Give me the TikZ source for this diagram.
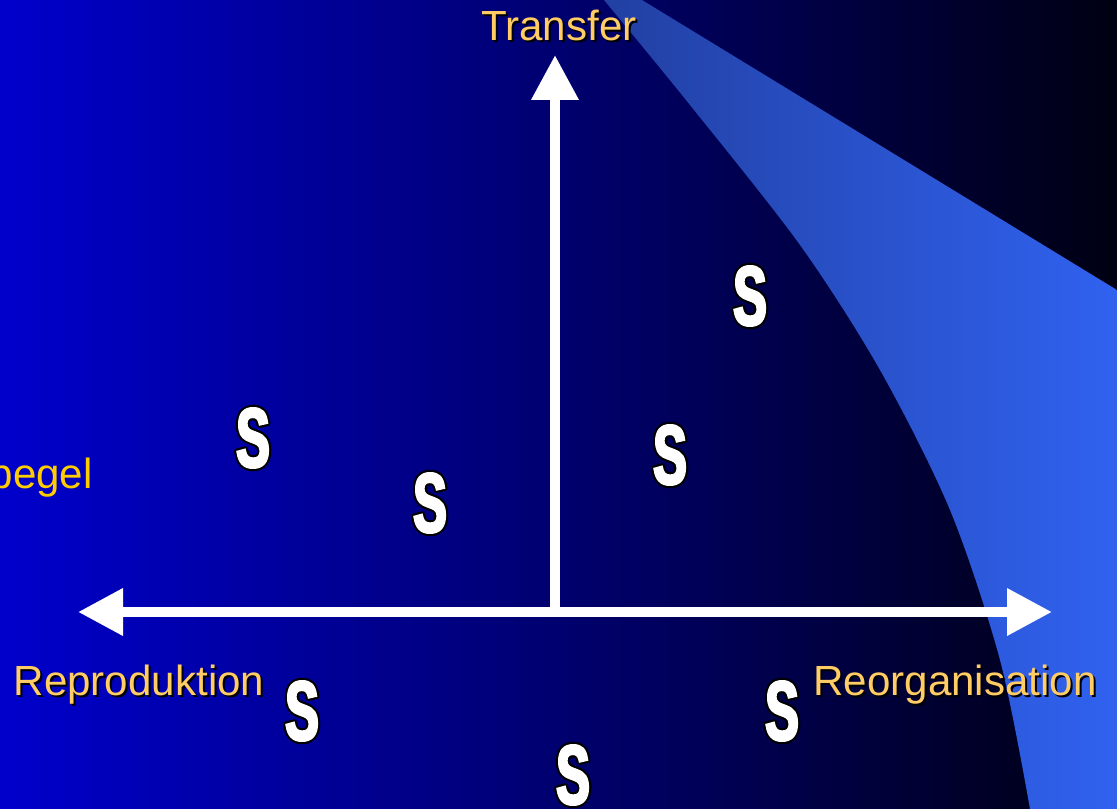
\documentclass[tikz,border=0pt]{standalone}
\usepackage{fontspec}
\setmainfont{Liberation Sans}
\newfontfamily\sglyphfont[FakeStretch=0.6,FakeBold=3]{Liberation Sans Bold}
\usepackage{tikz}
\usetikzlibrary{arrows.meta}
\definecolor{bgleft}{HTML}{0000CC}
\definecolor{bgright}{HTML}{000012}
\definecolor{bandl}{HTML}{2240A2}
\definecolor{bandr}{HTML}{3062F0}
\definecolor{labelc}{HTML}{FFCC66}
\definecolor{goldc}{HTML}{FFCC00}

\begin{document}
\begin{tikzpicture}[x=0.75pt,y=-0.75pt,every node/.style={inner sep=0pt,font=\fontsize{31.6}{36}\selectfont}]
\tikzstyle{axis}=[white,line width=7.5pt]
\tikzstyle{shadow}=[black,anchor=base]
\tikzstyle{label}=[labelc,anchor=base]
\tikzstyle{sglyph}=[font=\sglyphfont\fontsize{63}{63}\selectfont]
\useasboundingbox (0,0) rectangle (1117,809);
% background and band
\shade[left color=bgleft,right color=bgright] (0,0) rectangle (1117,809);
\shade[left color=bandl,right color=bandr] (604,0) -- (642,0) -- (1117,290) -- (1117,809) -- (1030,809)
  -- plot[smooth] coordinates {(1030,809) (1000,660) (950,510) (880,370) (800,245) (690,105) (604,0)} -- cycle;
% axes
\coordinate (left) at (78,612);
\coordinate (right) at (1052,612);
\coordinate (origin) at (555,608);
\coordinate (top) at (555,55);
\draw[axis,{Triangle[length=33.75pt,width=33.75pt]}-{Triangle[length=33.75pt,width=33.75pt]}] (left) -- (right);
\draw[axis,-{Triangle[length=33.75pt,width=33.75pt]}] (origin) -- (top);
% the S marks
\foreach \sx/\sy [count=\i] in {253/438,430/503,750/296,670/455,302/711,782/711,573/775}{
  \foreach \a in {0,45,...,315}
    \node[sglyph,black] at ([shift={(\a:2.2)}]\sx,\sy) {S};
  \node[sglyph,white] (s\i) at (\sx,\sy) {S};
}
% labels
\node[shadow] at (561,43) {Transfer};
\node[label] (transfer) at (559,41) {Transfer};
\node[shadow] at (141,697) {Reproduktion};
\node[label] (repro) at (139,695) {Reproduktion};
\node[shadow] at (957,697) {Reorganisation};
\node[label] (reorg) at (955,695) {Reorganisation};
\node[goldc,anchor=base east] (spiegel) at (93,488) {begel};
\end{tikzpicture}
\end{document}
